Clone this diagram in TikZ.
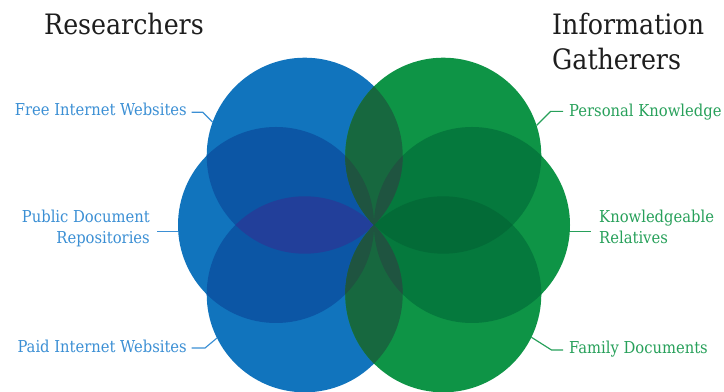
\documentclass[tikz,border=0pt]{standalone}
\usepackage{fontspec}
\setmainfont{DejaVu Serif Condensed}
\usepackage{tikz}
\usetikzlibrary{calc,positioning}
\definecolor{petalblue}{HTML}{1174BD}
\definecolor{blueB}{HTML}{0C56A5}
\definecolor{blueC}{HTML}{223F9A}
\definecolor{petalgreen}{HTML}{0E9446}
\definecolor{greenB}{HTML}{05793D}
\definecolor{greenC}{HTML}{036B37}
\definecolor{mixA}{HTML}{17683F}
\definecolor{mixB}{HTML}{1F5440}
\definecolor{labelblue}{HTML}{3B8FD4}
\definecolor{labelgreen}{HTML}{27A05A}
\definecolor{headgray}{HTML}{1E1E1E}
\newcommand{\petal}{2.94}

\begin{document}
\begin{tikzpicture}[
  lbl/.style={inner sep=0pt, font=\fontsize{14}{18}\selectfont},
  bluelbl/.style={lbl, text=labelblue},
  greenlbl/.style={lbl, text=labelgreen},
  heading/.style={inner sep=0pt, text=headgray, font=\fontsize{24}{30}\selectfont},
  bluelink/.style={draw=labelblue, line width=1pt},
  greenlink/.style={draw=labelgreen, line width=1pt}
]
\useasboundingbox (0,0) rectangle (21.72,11.76);
\coordinate (o) at (11.22,5.01);
\foreach \n/\a in {b1/135,b2/180,b3/225,g1/45,g2/0,g3/-45}
  \coordinate (\n) at ($(o)+(\a:\petal)$);
% single petals
\foreach \c in {b1,b2,b3} \fill[petalblue] (\c) circle[radius=\petal];
\foreach \c in {g1,g2,g3} \fill[petalgreen] (\c) circle[radius=\petal];
% overlaps of one colour
\foreach \p/\q/\col in {b1/b2/blueB,b2/b3/blueB,b1/b3/blueC,
                        g1/g2/greenB,g2/g3/greenB,g1/g3/greenC} {
  \begin{scope}
    \clip (\p) circle[radius=\petal];
    \fill[\col] (\q) circle[radius=\petal];
  \end{scope}
}
% blue meets green
\foreach \p in {b1,b2,b3}
  \foreach \q in {g1,g2,g3} {
    \begin{scope}
      \clip (\p) circle[radius=\petal];
      \fill[mixA] (\q) circle[radius=\petal];
    \end{scope}
  }
% two petals of one colour over one of the other
\foreach \p/\q in {b1/b2,b2/b3,b1/b3}
  \foreach \r in {g1,g2,g3} {
    \begin{scope}
      \clip (\p) circle[radius=\petal];
      \clip (\q) circle[radius=\petal];
      \fill[mixB] (\r) circle[radius=\petal];
    \end{scope}
  }
\foreach \p/\q in {g1/g2,g2/g3,g1/g3}
  \foreach \r in {b1,b2,b3} {
    \begin{scope}
      \clip (\p) circle[radius=\petal];
      \clip (\q) circle[radius=\petal];
      \fill[mixB] (\r) circle[radius=\petal];
    \end{scope}
  }

% headings
\node[heading, anchor=base west] (res) at (1.32,10.71) {Researchers};
\node[heading, anchor=base west, align=left] (gath) at (16.56,9.66)
  {Information\\Gatherers};

% labels
\node[bluelbl, anchor=base east] (freeweb) at (5.61,8.28) {Free Internet Websites};
\node[bluelbl, anchor=base east, align=right] (pubdoc) at (4.5,4.44)
  {Public Document\\Repositories};
\node[bluelbl, anchor=base east] (paidweb) at (5.61,1.17) {Paid Internet Websites};
\node[greenlbl, anchor=base west] (perskn) at (17.07,8.25) {Personal Knowledge};
\node[greenlbl, anchor=base west, align=left] (knowrel) at (17.97,4.44)
  {Knowledgeable\\Relatives};
\node[greenlbl, anchor=base west] (famdoc) at (17.07,1.14) {Family Documents};

% connectors
\coordinate (freept) at ($(b1)+(160:\petal)$);
\coordinate (pubpt) at ($(b2)+(184:\petal)$);
\coordinate (paidpt) at ($(b3)+(206.5:\petal)$);
\coordinate (perspt) at ($(g1)+(18:\petal)$);
\coordinate (knowpt) at ($(g2)+(-4:\petal)$);
\coordinate (fampt) at ($(g3)+(-26:\petal)$);
\coordinate (freeknee) at ($(freept)+(-0.3,0.3)$);
\coordinate (paidknee) at ($(paidpt)+(-0.36,-0.3)$);
\coordinate (persknee) at ($(perspt)+(0.42,0.42)$);
\coordinate (famknee) at ($(fampt)+(0.6,-0.38)$);
\draw[bluelink, shorten <=4pt] (freeweb.east |- freeknee) -- (freeknee) -- (freept);
\draw[bluelink, shorten <=6pt] (pubdoc.east |- pubpt) -- (pubpt);
\draw[bluelink, shorten <=4pt] (paidweb.east |- paidknee) -- (paidknee) -- (paidpt);
\draw[greenlink, shorten >=5pt] (perspt) -- (persknee) -- (perskn.west |- persknee);
\draw[greenlink, shorten >=7pt] (knowpt) -- (knowrel.west |- knowpt);
\draw[greenlink, shorten >=5pt] (fampt) -- (famknee) -- (famdoc.west |- famknee);
\end{tikzpicture}
\end{document}
